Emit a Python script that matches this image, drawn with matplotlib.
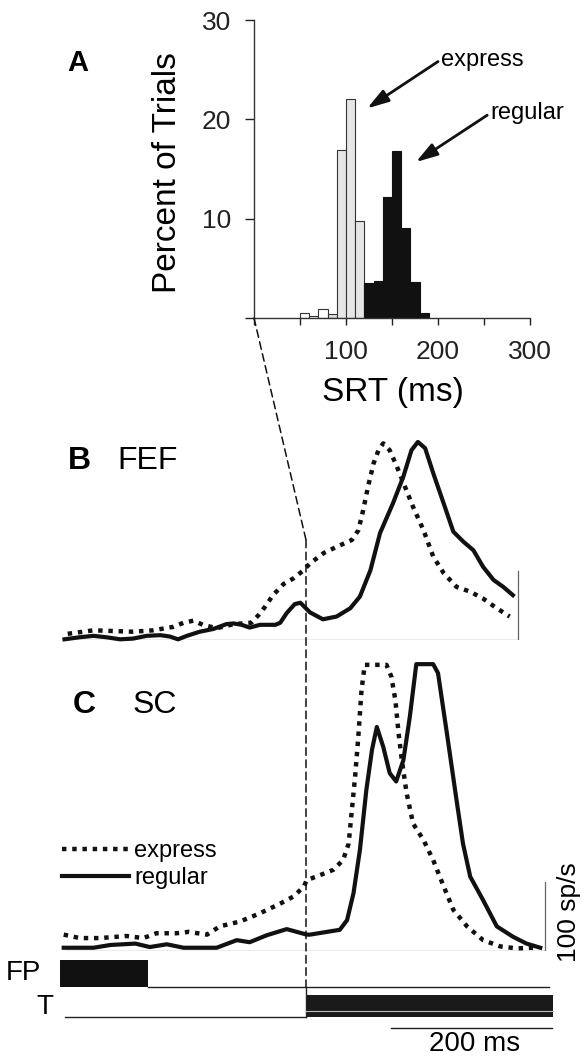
import numpy as np
import matplotlib
matplotlib.use("Agg")
import matplotlib.pyplot as plt
from matplotlib.patches import ConnectionPatch

plt.rcParams["font.family"] = ["Liberation Sans", "DejaVu Sans"]

# ---- data -----------------------------------------------------------------
# A: saccadic reaction time histogram (10 ms bins, left edges)
express_bins = [50, 60, 70, 80, 90, 100, 110]
express_pct = [0.5, 0.2, 0.9, 0.4, 16.9, 22.0, 9.8]
regular_bins = [120, 130, 140, 150, 160, 170, 180]
regular_pct = [3.5, 3.7, 12.2, 16.8, 9.1, 3.6, 0.5]

# B: FEF activity (ms from target onset, spikes/s)
fef_reg_t = [-300, -281, -264, -248, -231, -215, -198, -181, -169, -159, -148,
             -132, -115, -99, -90, -80, -70, -57, -38, -32, -24, -14, -7, 5,
             21, 38, 55, 67, 80, 92, 108, 121, 131, 139, 148, 158, 171, 183,
             195, 208, 220, 233, 245, 257]
fef_reg_r = [1, 4, 6, 4, 1, 2, 6, 7, 5, 1, 6, 12, 16, 23, 24, 22, 18, 22, 22,
             25, 39, 52, 54, 40, 30, 34, 46, 63, 101, 155, 198, 237, 275, 287,
             278, 242, 198, 157, 143, 130, 106, 87, 77, 65]
fef_exp_t = [-296, -264, -239, -215, -190, -165, -152, -140, -128, -111, -90,
             -68, -59, -51, -41, -28, -16, -3, 5, 22, 38, 57, 65, 71, 77, 84,
             90, 96, 104, 113, 123, 133, 146, 158, 171, 187, 204, 220, 237, 253]
fef_exp_r = [9, 14, 13, 12, 14, 19, 25, 28, 22, 17, 23, 25, 36, 48, 65, 81,
             89, 101, 111, 126, 135, 145, 159, 188, 222, 256, 275, 285, 275,
             251, 222, 193, 159, 121, 97, 77, 70, 60, 46, 34]

# C: SC activity
sc_reg_t = [-301, -264, -243, -212, -194, -173, -152, -111, -86, -70, -49, -24,
            1, 5, 26, 42, 51, 59, 67, 75, 82, 88, 96, 104, 112, 121, 129, 137,
            158, 164, 175, 187, 195, 204, 220, 237, 257, 274, 291]
sc_reg_r = [4, 4, 8, 10, 5, 9, 4, 4, 15, 12, 22, 31, 23, 23, 27, 30, 44, 83,
            146, 233, 291, 324, 295, 257, 245, 276, 339, 415, 415, 402, 315,
            218, 155, 107, 73, 35, 20, 10, 4]
sc_exp_t = [-301, -281, -256, -223, -202, -186, -161, -146, -123, -107, -82,
            -57, -32, -16, -3, 1, 17, 34, 46, 53, 57, 61, 65, 69, 73, 100, 106,
            111, 115, 119, 125, 133, 146, 158, 171, 183, 200, 220, 241, 262, 282]
sc_exp_r = [23, 18, 18, 21, 18, 25, 25, 27, 23, 35, 42, 54, 68, 78, 92, 102,
            109, 117, 131, 155, 204, 252, 310, 378, 414, 414, 397, 363, 315,
            276, 228, 184, 160, 131, 93, 59, 35, 15, 6, 3, 4]

# events (ms from target onset)
fp_on, fp_off, fp_end = -306, -196, 302
t_start, t_on, t_end = -300, 0, 307
scale_bar_ms = [105, 305]
fef_end, sc_end = 263, 297

# ---- layout helpers (pixels of a 585 x 1062 canvas) ------------------------
W, H = 585, 1062
PX_MS = 0.805      # px per ms in B/C
PX_SPS = 0.69      # px per spike/s
T0_PX = 306        # x pixel of target onset
TLIM = (-310, 310)


def rect(left, top, right, bottom):
    return [left / W, 1 - bottom / H, (right - left) / W, (bottom - top) / H]


def time_axes(fig, base_px, rmax):
    left = T0_PX + TLIM[0] * PX_MS
    right = T0_PX + TLIM[1] * PX_MS
    ax = fig.add_axes(rect(left, base_px - rmax * PX_SPS, right, base_px))
    ax.set_xlim(*TLIM)
    ax.set_ylim(0, rmax)
    ax.axis("off")
    return ax


fig = plt.figure(figsize=(W / 100, H / 100), dpi=100)
INK = "#111111"
GREY = "#666666"
FS_TICK, FS_LAB, FS_TXT = 19, 24, 17

# ---- panel A ----------------------------------------------------------------
axA = fig.add_axes(rect(254, 20, 530, 318))
face_exp = ["white", "white", "white", "#dcdcdc", "#e6e6e6", "#e6e6e6", "#e6e6e6"]
axA.bar(express_bins, express_pct, width=10, align="edge", color=face_exp,
        edgecolor="#333333", linewidth=0.8, zorder=2)
axA.bar(regular_bins, regular_pct, width=10, align="edge", color=INK,
        edgecolor=INK, linewidth=0.8, zorder=2)
axA.set_xlim(0, 300)
axA.set_ylim(0, 30)
axA.spines[["top", "right"]].set_visible(False)
for s in ("left", "bottom"):
    axA.spines[s].set_linewidth(1.0)
    axA.spines[s].set_color("#333333")
axA.set_xticks(np.arange(0, 301, 50))
axA.set_xticklabels(["", "", "100", "", "200", "", "300"])
axA.set_yticks([0, 10, 20, 30])
axA.set_yticklabels(["", "10", "20", "30"])
axA.tick_params(axis="x", direction="out", length=5, width=1, pad=11,
                labelsize=FS_TICK, colors="#222222")
axA.tick_params(axis="y", direction="out", length=6.5, width=1, pad=10,
                labelsize=FS_TICK, colors="#222222")
fig.text(168 / W, 1 - 173 / H, "Percent of Trials", rotation=90,
         ha="center", va="center", fontsize=FS_LAB)
fig.text(393 / W, 1 - 392 / H, "SRT (ms)", ha="center", va="center",
         fontsize=FS_LAB)
fig.text(67 / W, 1 - 63 / H, "A", ha="left", va="center", fontsize=21,
         fontweight="bold")

arrow = dict(arrowstyle="-|>,head_length=1.3,head_width=0.4", lw=2,
             color=INK, shrinkA=0, shrinkB=0, mutation_scale=10,
             relpos=(0, 0.5))
axA.annotate("express", xy=(123, 21.1), xytext=(203, 26.0), ha="left",
             va="center", fontsize=FS_TXT, arrowprops=arrow)
axA.annotate("regular", xy=(176, 15.7), xytext=(256.5, 20.6), ha="left",
             va="center", fontsize=FS_TXT, arrowprops=arrow)

# ---- panel B (FEF) -------------------------------------------------------------
axB = time_axes(fig, 640, 320)
dot = dict(color=INK, lw=3.2, linestyle=(0, (1, 1.3)), dash_capstyle="butt",
           clip_on=False)
solid = dict(color=INK, lw=3.0, solid_joinstyle="round", clip_on=False)
axB.plot([t_start, fef_end], [0, 0], color=GREY, lw=0.9)
axB.plot([fef_end, fef_end], [0, 100], color=GREY, lw=0.9)
axB.plot(fef_exp_t, fef_exp_r, **dot)
axB.plot(fef_reg_t, fef_reg_r, **solid)
fig.text(68 / W, 1 - 461 / H, "B", ha="left", va="center", fontsize=23,
         fontweight="bold")
fig.text(117 / W, 1 - 461 / H, "FEF", ha="left", va="center", fontsize=23)

# ---- panel C (SC) --------------------------------------------------------------
axC = time_axes(fig, 950.5, 430)
axC.plot([t_start, sc_end], [0, 0], color=GREY, lw=0.9)
axC.plot([sc_end, sc_end], [0, 100], color=GREY, lw=0.9)
axC.plot(sc_exp_t, sc_exp_r, label="express", **dot)
axC.plot(sc_reg_t, sc_reg_r, label="regular", **solid)
fig.text(73 / W, 1 - 705 / H, "C", ha="left", va="center", fontsize=23,
         fontweight="bold")
fig.text(133 / W, 1 - 705 / H, "SC", ha="left", va="center", fontsize=23)
fig.text(569 / W, 1 - 912 / H, "100 sp/s", rotation=90, ha="center",
         va="center", fontsize=FS_TICK)
axC.legend(loc="upper left", bbox_to_anchor=(62 / W, 1 - 840 / H),
           bbox_transform=fig.transFigure, frameon=False, fontsize=FS_TXT,
           handlelength=2.85, handletextpad=0.2, labelspacing=0.22,
           borderpad=0, borderaxespad=0)

# ---- event markers -------------------------------------------------------------
axE = fig.add_axes(rect(T0_PX + TLIM[0] * PX_MS, 955, T0_PX + TLIM[1] * PX_MS, 1030))
axE.set_xlim(*TLIM)
axE.set_ylim(0, 1)
axE.axis("off")
fp_y, fp_top = 0.573, 0.933
t_low, t_top = 0.173, 0.467
axE.fill_between([fp_on, fp_off], fp_y, fp_top, color=INK, lw=0)
axE.plot([fp_off, fp_end], [fp_y, fp_y], color="#222222", lw=1.0)
axE.plot([t_start, t_on], [t_low, t_low], color="#222222", lw=1.0)
axE.plot([t_on, t_on], [fp_y, t_low], color="#222222", lw=1.0)
axE.fill_between([t_on, t_end], t_low, t_top, color="#1a1a1a", lw=0)
axE.plot([t_on, t_end], [0.26, 0.26], color="#bbbbbb", lw=0.8)
axE.plot(scale_bar_ms, [0.027, 0.027], color="#222222", lw=1.0, clip_on=False)
fig.text(23 / W, 1 - 973 / H, "FP", ha="center", va="center", fontsize=20)
fig.text(45 / W, 1 - 1007 / H, "T", ha="center", va="center", fontsize=20)
fig.text(475 / W, 1 - 1044 / H, "200 ms", ha="center", va="center",
         fontsize=20)

# ---- dashed link from SRT = 0 to target onset ----------------------------------
dash = dict(color=INK, lw=1.1, linestyle=(0, (5, 3)))
fig.add_artist(ConnectionPatch(xyA=(0, 0), coordsA=axA.transData,
                               xyB=(0, 145), coordsB=axB.transData, **dash))
fig.add_artist(ConnectionPatch(xyA=(0, 145), coordsA=axB.transData,
                               xyB=(0, fp_y), coordsB=axE.transData, **dash))

fig.savefig("out.png", dpi=100)
